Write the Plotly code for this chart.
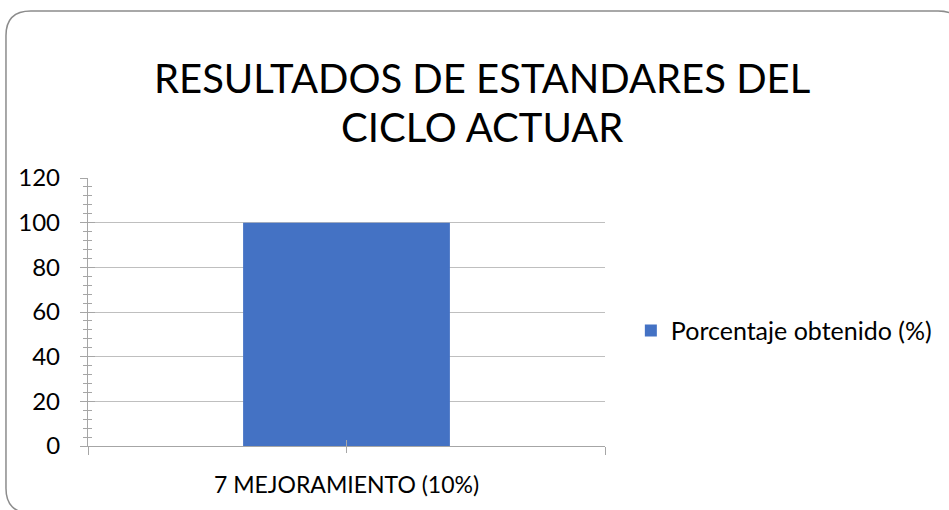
import plotly.graph_objects as go

categories = ["7 MEJORAMIENTO (10%)"]
values = [100]
series_name = "Porcentaje obtenido (%)"
y_ticks = [0, 20, 40, 60, 80, 100, 120]
title_lines = ["RESULTADOS DE ESTANDARES DEL", "CICLO ACTUAR"]

W, H = 949, 510
ML, MR, MT, MB = 88, 341, 178, 60
PW, PH = W - ML - MR, H - MT - MB

def px(xp):
    return (xp - ML) / PW

def py(yp):
    return (H - MB - yp) / PH

FONT = "Lato"
AX = "#A6A6A6"
GRID = "#BFBFBF"

fig = go.Figure()
xs = list(range(len(categories)))
fig.add_trace(go.Bar(x=xs, y=values, name=series_name, width=0.4,
                     marker=dict(color="#4472C4", line=dict(width=0)),
                     showlegend=True))
# invisible trace on overlay axes so they render
fig.add_trace(go.Scatter(x=xs, y=values, xaxis="x2", yaxis="y2", mode="markers",
                         marker=dict(opacity=0), showlegend=False, hoverinfo="skip"))

fig.update_layout(
    width=W, height=H,
    margin=dict(l=ML, r=MR, t=MT, b=MB),
    paper_bgcolor="white", plot_bgcolor="white",
    font=dict(family=FONT, color="#000000"),
    xaxis=dict(range=[-0.5, 0.5], tickmode="array", tickvals=xs, ticktext=categories,
               showgrid=False, zeroline=False, showline=True, linecolor=AX, linewidth=1.3,
               ticks="outside", ticklen=6, tickcolor=AX, tickwidth=1.3,
               ticklabelstandoff=12, tickfont=dict(size=23),
               minor=dict(tickmode="array", tickvals=[-0.5, 0.5], ticks="outside", ticklen=8,
                          tickcolor=AX, tickwidth=1.3, showgrid=False)),
    xaxis2=dict(range=[-0.5, 0.5], overlaying="x", tickmode="array", tickvals=xs,
                showticklabels=False, showgrid=False, zeroline=False, showline=False,
                ticks="inside", ticklen=6, tickcolor=AX, tickwidth=1.3,
                minor=dict(tickmode="array", tickvals=[-0.5, 0.5], ticks="inside", ticklen=8,
                           tickcolor=AX, tickwidth=1.3, showgrid=False)),
    yaxis=dict(range=[0, 120], tickmode="array", tickvals=y_ticks,
               showgrid=True, gridcolor=GRID, gridwidth=1.3, zeroline=False,
               showline=True, linecolor=AX, linewidth=1.3,
               ticks="outside", ticklen=7, tickcolor=AX, tickwidth=1.3,
               ticklabelstandoff=15, tickfont=dict(size=24),
               minor=dict(dtick=4, tick0=0, ticks="outside", ticklen=4, tickcolor=AX,
                          tickwidth=1.1, showgrid=False)),
    yaxis2=dict(range=[0, 120], overlaying="y", tickmode="array", tickvals=y_ticks,
                showticklabels=False, showgrid=False, zeroline=False, showline=False,
                ticks="inside", ticklen=7, tickcolor=AX, tickwidth=1.3,
                minor=dict(dtick=4, tick0=0, ticks="inside", ticklen=4, tickcolor=AX,
                           tickwidth=1.1, showgrid=False)),
    legend=dict(x=px(634), y=py(333), xanchor="left", yanchor="middle",
                font=dict(size=25), bgcolor="rgba(0,0,0,0)", itemclick=False),
    bargap=0.6,
)

fig.add_annotation(text=title_lines[0], xref="paper", yref="paper", x=px(484), y=py(76),
                   xanchor="center", yanchor="middle", showarrow=False, font=dict(size=40))
fig.add_annotation(text=title_lines[1], xref="paper", yref="paper", x=px(484), y=py(126),
                   xanchor="center", yanchor="middle", showarrow=False, font=dict(size=40))

# rounded chart border
L, T, R, B, r = 5.5, 8.5, 968, 518, 25
path = (f"M {px(L+r)},{py(T)} L {px(R-r)},{py(T)} Q {px(R)},{py(T)} {px(R)},{py(T+r)} "
        f"L {px(R)},{py(B-r)} Q {px(R)},{py(B)} {px(R-r)},{py(B)} "
        f"L {px(L+r)},{py(B)} Q {px(L)},{py(B)} {px(L)},{py(B-r)} "
        f"L {px(L)},{py(T+r)} Q {px(L)},{py(T)} {px(L+r)},{py(T)} Z")
fig.add_shape(type="path", path=path, xref="paper", yref="paper",
              line=dict(color="#8C8C8C", width=1.5), fillcolor="rgba(0,0,0,0)", layer="above")

fig.write_html("out.html", config={"displayModeBar": False},
               post_script="document.body.style.margin='0';document.body.style.overflow='hidden';")
